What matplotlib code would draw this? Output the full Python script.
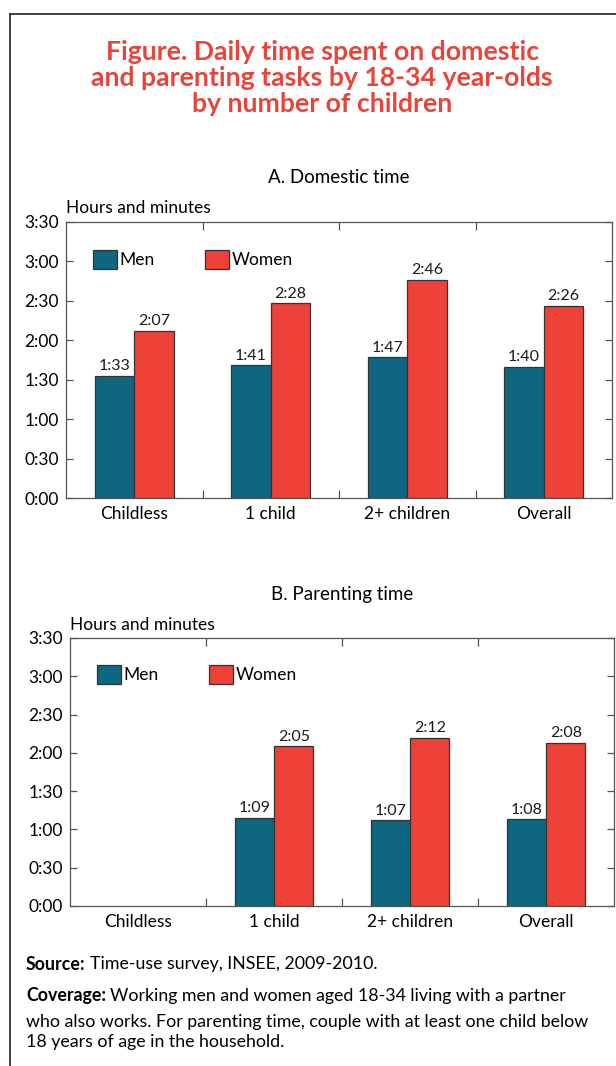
import numpy as np
import matplotlib
matplotlib.use('Agg')
import matplotlib.pyplot as plt
from matplotlib.ticker import FixedLocator
from matplotlib.lines import Line2D

plt.rcParams['font.family'] = ['Lato', 'DejaVu Sans']

categories = ['Childless', '1 child', '2+ children', 'Overall']

# minutes per day
domestic_men = [93, 101, 107, 100]
domestic_women = [127, 148, 166, 146]
parenting_men = [np.nan, 69, 67, 68]
parenting_women = [np.nan, 125, 132, 128]

men_color = '#0f6680'
women_color = '#ee4137'
title_color = '#e8443a'
spine_color = '#555555'


def hmm(minutes):
    return '%d:%02d' % (minutes // 60, minutes % 60)


def draw_panel(ax, men, women, subtitle):
    x = np.arange(len(categories))
    w = 0.29
    b1 = ax.bar(x - w / 2, men, w, color=men_color, edgecolor='#333333', linewidth=0.9, label='Men')
    b2 = ax.bar(x + w / 2, women, w, color=women_color, edgecolor='#333333', linewidth=0.9, label='Women')
    for bars, vals in ((b1, men), (b2, women)):
        for rect, v in zip(bars, vals):
            if np.isnan(v):
                continue
            ax.text(rect.get_x() + rect.get_width() / 2, v + 2, hmm(int(v)),
                    ha='center', va='bottom', fontsize=11.5, color='#1a1a1a')

    ax.set_xlim(-0.5, len(categories) - 0.5)
    ax.set_ylim(0, 210)
    yt = np.arange(0, 211, 30)
    ax.set_yticks(yt)
    ax.set_yticklabels([hmm(v) for v in yt], fontsize=12.5)
    ax.tick_params(axis='y', direction='in', length=5, width=0.9, color=spine_color,
                   left=True, right=True, pad=5)
    ax.set_xticks(x)
    ax.set_xticklabels(categories, fontsize=12.5)
    ax.tick_params(axis='x', which='major', length=0, pad=6)
    ax.xaxis.set_minor_locator(FixedLocator([0.5, 1.5, 2.5]))
    ax.tick_params(axis='x', which='minor', direction='in', length=6, width=0.9,
                   color=spine_color, top=True, bottom=True)
    for s in ax.spines.values():
        s.set_color(spine_color)
        s.set_linewidth(0.9)

    ax.legend(loc='upper left', ncol=2, frameon=False, fontsize=12.5,
              handlelength=1.4, handleheight=1.3, handletextpad=0.15,
              columnspacing=2.9, bbox_to_anchor=(0.036, 0.925), borderaxespad=0)
    ax.text(0, 1.02, 'Hours and minutes', transform=ax.transAxes,
            ha='left', va='bottom', fontsize=12.5)
    ax.text(0.5, 1.13, subtitle, transform=ax.transAxes,
            ha='center', va='bottom', fontsize=13.5)


fig = plt.figure(figsize=(6.16, 10.66), dpi=100)

# outer frame
fig.add_artist(Line2D([10 / 616, 10 / 616], [0, 1 - 14 / 1066], transform=fig.transFigure,
                      color='#222222', linewidth=1.2))
fig.add_artist(Line2D([10 / 616, 1], [1 - 14 / 1066, 1 - 14 / 1066], transform=fig.transFigure,
                      color='#222222', linewidth=1.2))

fig.text(0.523, 1 - 78 / 1066,
         'Figure. Daily time spent on domestic\nand parenting tasks by 18-34 year-olds\nby number of children',
         ha='center', va='center', color=title_color, fontsize=19.2, fontweight='bold',
         linespacing=1.12)

ax1 = fig.add_axes([66 / 616, 1 - 498 / 1066, (612 - 66) / 616, (498 - 222) / 1066])
draw_panel(ax1, domestic_men, domestic_women, 'A. Domestic time')

ax2 = fig.add_axes([70 / 616, 1 - 906 / 1066, (614 - 70) / 616, (906 - 638) / 1066])
draw_panel(ax2, parenting_men, parenting_women, 'B. Parenting time')

# notes below the charts: bold lead-in followed by regular text
renderer = fig.canvas.get_renderer()
notes = [
    ('Source:', 'Time-use survey, INSEE, 2009-2010.', 964),
    ('Coverage:', 'Working men and women aged 18-34 living with a partner', 996),
]
for head, body, ypix in notes:
    t = fig.text(26 / 616, 1 - ypix / 1066, head, fontsize=12.8, fontweight='bold',
                 va='center', ha='left')
    bb = t.get_window_extent(renderer)
    fig.text((bb.x1 + 4) / fig.bbox.width, 1 - ypix / 1066, body, fontsize=12.8,
             va='center', ha='left')
fig.text(26 / 616, 1 - 1032 / 1066,
         'who also works. For parenting time, couple with at least one child below\n'
         '18 years of age in the household.',
         fontsize=12.8, va='center', ha='left', linespacing=1.25)

fig.savefig('out.png', dpi=100)
